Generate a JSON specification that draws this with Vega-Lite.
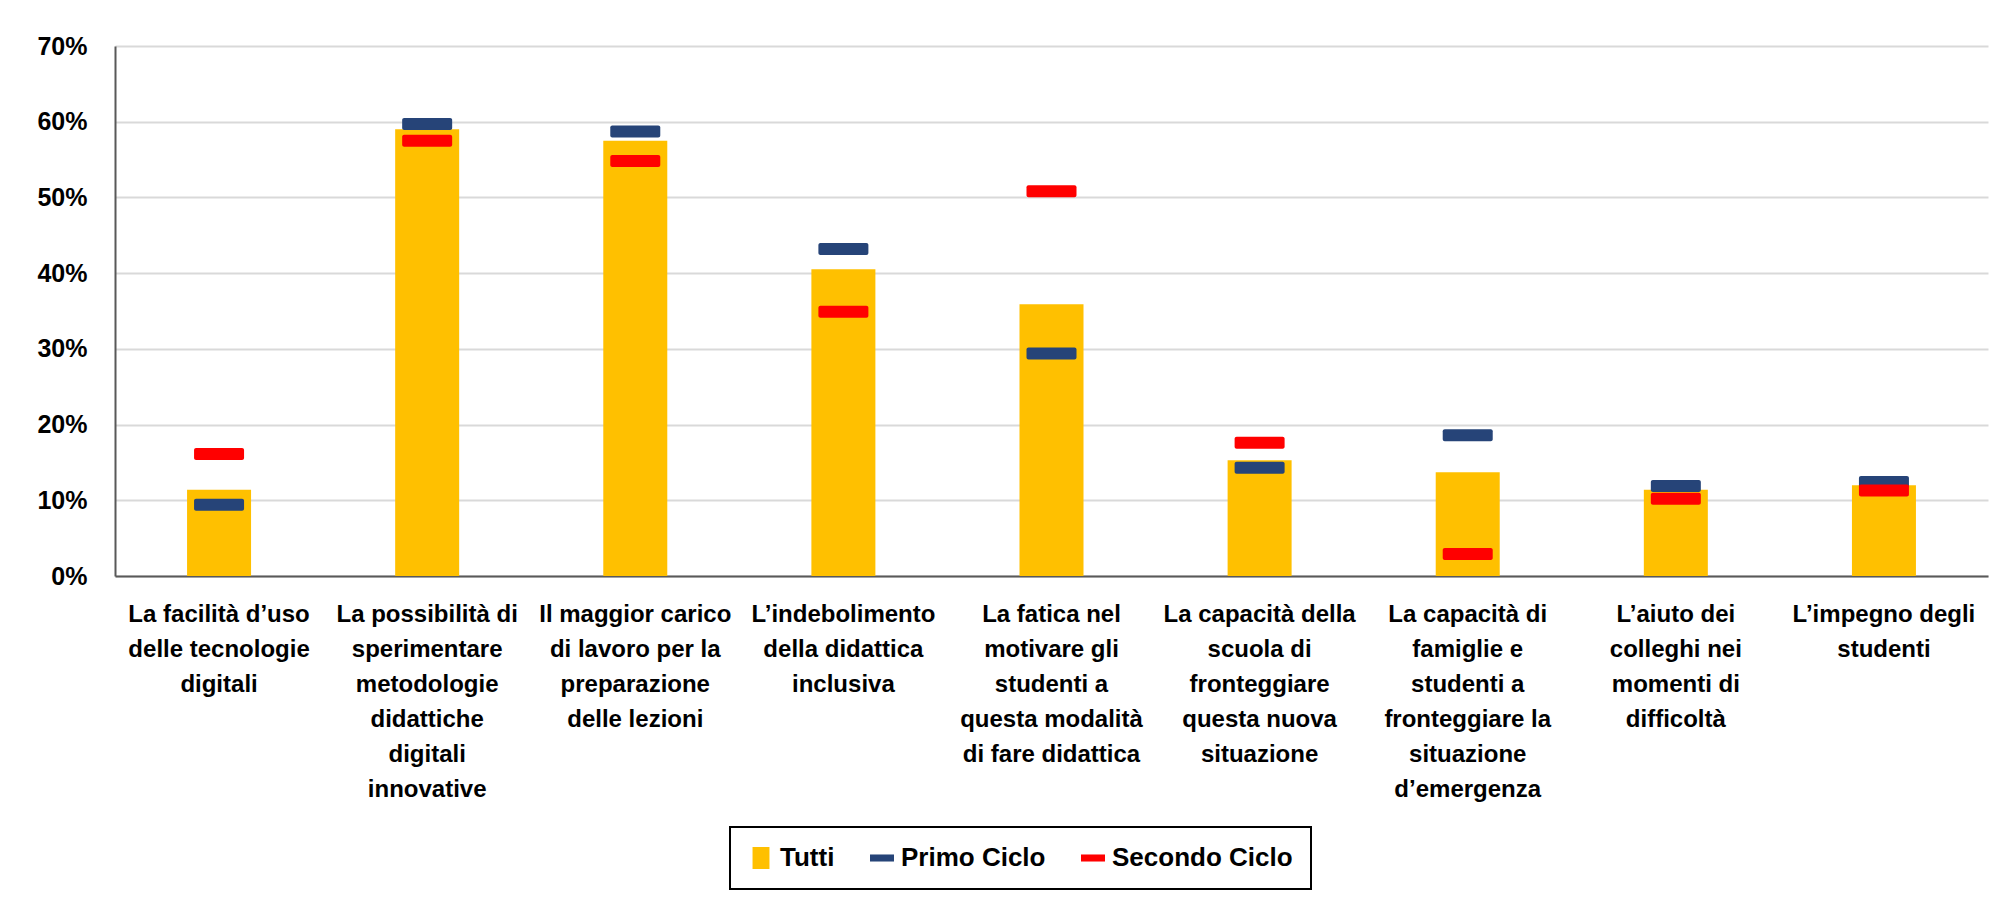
{
  "$schema": "https://vega.github.io/schema/vega-lite/v6.json",
  "autosize": {"type": "none"},
  "width": 1873,
  "height": 530,
  "padding": {"left": 115, "top": 46, "right": 12, "bottom": 321},
  "background": "white",
  "config": {
    "view": {"stroke": null},
    "font": "Liberation Sans",
    "axis": {"labelFont": "Liberation Sans", "labelFontWeight": "bold", "labelColor": "black"},
    "legend": {"labelFont": "Liberation Sans", "labelFontWeight": "bold", "strokeWidth": 2}
  },
  "data": {
    "values": [
      {"categoria": "La facilità d’uso\ndelle tecnologie\ndigitali", "serie": "Tutti", "valore": 0.114},
      {"categoria": "La facilità d’uso\ndelle tecnologie\ndigitali", "serie": "Primo Ciclo", "valore": 0.094},
      {"categoria": "La facilità d’uso\ndelle tecnologie\ndigitali", "serie": "Secondo Ciclo", "valore": 0.161},
      {"categoria": "La possibilità di\nsperimentare\nmetodologie\ndidattiche\ndigitali\ninnovative", "serie": "Tutti", "valore": 0.590},
      {"categoria": "La possibilità di\nsperimentare\nmetodologie\ndidattiche\ndigitali\ninnovative", "serie": "Primo Ciclo", "valore": 0.597},
      {"categoria": "La possibilità di\nsperimentare\nmetodologie\ndidattiche\ndigitali\ninnovative", "serie": "Secondo Ciclo", "valore": 0.575},
      {"categoria": "Il maggior carico\ndi lavoro per la\npreparazione\ndelle lezioni", "serie": "Tutti", "valore": 0.575},
      {"categoria": "Il maggior carico\ndi lavoro per la\npreparazione\ndelle lezioni", "serie": "Primo Ciclo", "valore": 0.587},
      {"categoria": "Il maggior carico\ndi lavoro per la\npreparazione\ndelle lezioni", "serie": "Secondo Ciclo", "valore": 0.548},
      {"categoria": "L’indebolimento\ndella didattica\ninclusiva", "serie": "Tutti", "valore": 0.405},
      {"categoria": "L’indebolimento\ndella didattica\ninclusiva", "serie": "Primo Ciclo", "valore": 0.432},
      {"categoria": "L’indebolimento\ndella didattica\ninclusiva", "serie": "Secondo Ciclo", "valore": 0.349},
      {"categoria": "La fatica nel\nmotivare gli\nstudenti a\nquesta modalità\ndi fare didattica", "serie": "Tutti", "valore": 0.359},
      {"categoria": "La fatica nel\nmotivare gli\nstudenti a\nquesta modalità\ndi fare didattica", "serie": "Primo Ciclo", "valore": 0.294},
      {"categoria": "La fatica nel\nmotivare gli\nstudenti a\nquesta modalità\ndi fare didattica", "serie": "Secondo Ciclo", "valore": 0.508},
      {"categoria": "La capacità della\nscuola di\nfronteggiare\nquesta nuova\nsituazione", "serie": "Tutti", "valore": 0.153},
      {"categoria": "La capacità della\nscuola di\nfronteggiare\nquesta nuova\nsituazione", "serie": "Primo Ciclo", "valore": 0.143},
      {"categoria": "La capacità della\nscuola di\nfronteggiare\nquesta nuova\nsituazione", "serie": "Secondo Ciclo", "valore": 0.176},
      {"categoria": "La capacità di\nfamiglie e\nstudenti a\nfronteggiare la\nsituazione\nd’emergenza", "serie": "Tutti", "valore": 0.137},
      {"categoria": "La capacità di\nfamiglie e\nstudenti a\nfronteggiare la\nsituazione\nd’emergenza", "serie": "Primo Ciclo", "valore": 0.186},
      {"categoria": "La capacità di\nfamiglie e\nstudenti a\nfronteggiare la\nsituazione\nd’emergenza", "serie": "Secondo Ciclo", "valore": 0.029},
      {"categoria": "L’aiuto dei\ncolleghi nei\nmomenti di\ndifficoltà", "serie": "Tutti", "valore": 0.114},
      {"categoria": "L’aiuto dei\ncolleghi nei\nmomenti di\ndifficoltà", "serie": "Primo Ciclo", "valore": 0.119},
      {"categoria": "L’aiuto dei\ncolleghi nei\nmomenti di\ndifficoltà", "serie": "Secondo Ciclo", "valore": 0.102},
      {"categoria": "L’impegno degli\nstudenti", "serie": "Tutti", "valore": 0.120},
      {"categoria": "L’impegno degli\nstudenti", "serie": "Primo Ciclo", "valore": 0.124},
      {"categoria": "L’impegno degli\nstudenti", "serie": "Secondo Ciclo", "valore": 0.113}
    ]
  },
  "encoding": {
    "x": {
      "field": "categoria", "type": "nominal", "sort": null, "title": null,
      "scale": {"paddingInner": 0, "paddingOuter": 0},
      "axis": {
        "labelAngle": 0, "ticks": false, "labelPadding": 26, "labelFontSize": 24,
        "labelLineHeight": 35, "labelBaseline": "top", "labelLimit": 0,
        "labelExpr": "split(datum.label, '\\n')",
        "domainColor": "#595959", "domainWidth": 2, "grid": false
      }
    },
    "y": {
      "field": "valore", "type": "quantitative", "title": null,
      "scale": {"domain": [0, 0.7], "nice": false},
      "axis": {
        "format": ".0%", "values": [0, 0.1, 0.2, 0.3, 0.4, 0.5, 0.6, 0.7],
        "ticks": false, "labelPadding": 28, "labelFontSize": 25,
        "domainColor": "#595959", "domainWidth": 2,
        "gridColor": "#D9D9D9", "gridWidth": 2
      }
    },
    "color": {
      "field": "serie", "type": "nominal", "title": null,
      "scale": {"domain": ["Tutti", "Primo Ciclo", "Secondo Ciclo"], "range": ["#FFC000", "#264478", "#FF0000"]},
      "legend": {
        "orient": "none", "legendX": 615, "legendY": 781, "direction": "horizontal",
        "strokeColor": "black", "padding": 18,
        "labelFontSize": 26, "labelColor": "black", "labelLimit": 0, "labelOffset": 6,
        "columnPadding": 34,
        "symbolSize": 484, "symbolStrokeWidth": 0, "symbolOpacity": 1,
        "encode": {
          "symbols": {
            "update": {
              "shape": {"signal": "datum.value === 'Tutti' ? 'M-0.77,-1H0.77V1H-0.77Z' : 'M-1.09,-0.32H1.09V0.32H-1.09Z'"}
            }
          }
        }
      }
    }
  },
  "layer": [
    {
      "transform": [{"filter": "datum.serie === 'Tutti'"}],
      "mark": {"type": "bar", "size": 64}
    },
    {
      "transform": [{"filter": "datum.serie === 'Primo Ciclo'"}],
      "mark": {"type": "tick", "size": 50, "thickness": 12, "cornerRadius": 2, "opacity": 1}
    },
    {
      "transform": [{"filter": "datum.serie === 'Secondo Ciclo'"}],
      "mark": {"type": "tick", "size": 50, "thickness": 12, "cornerRadius": 2, "opacity": 1}
    }
  ]
}
